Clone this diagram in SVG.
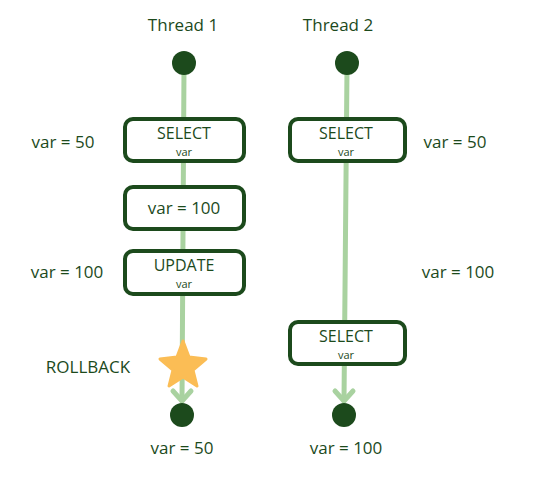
<svg xmlns="http://www.w3.org/2000/svg" width="554" height="484" viewBox="0 0 554 484">
<style>
.t{font-family:"Open Sans","DejaVu Sans",sans-serif;fill:#1c4a1c;text-anchor:middle}
.lbl{font-size:17px}
.big{font-size:17px}
.head{font-size:16px}
.small{font-size:11px}
.box{fill:#fff;stroke:#1c4a1c;stroke-width:4}
.line{stroke:#a9d2a0;stroke-width:5;fill:none;stroke-linecap:round;stroke-linejoin:round}
.dot{fill:#1c4a1c}
</style>
<rect width="554" height="484" fill="#fff"/>
<g id="connectors">
<path class="line" d="M184 68 L182 401"/>
<path class="line" d="M173 391 L182 401 L191 391"/>
<path class="line" d="M347 68 L344 401"/>
<path class="line" d="M335 391 L344 401 L353 391"/>
</g>
<g id="title1"><text class="t big" x="183" y="31">Thread 1</text></g>
<g id="title2"><text class="t big" x="338" y="31">Thread 2</text></g>
<g id="start1"><circle class="dot" cx="184" cy="63" r="12"/></g>
<g id="start2"><circle class="dot" cx="347" cy="63" r="12"/></g>
<g id="t1select">
<rect class="box" x="125" y="119" width="119" height="42" rx="8"/>
<text class="t head" x="184" y="139">SELECT</text>
<text class="t small" x="184" y="156">var</text>
</g>
<g id="t1assign">
<rect class="box" x="125" y="187" width="119" height="42" rx="8"/>
<text class="t lbl" x="184" y="214">var = 100</text>
</g>
<g id="t1update">
<rect class="box" x="125" y="251" width="119" height="43" rx="8"/>
<text class="t head" x="184" y="271">UPDATE</text>
<text class="t small" x="184" y="288">var</text>
</g>
<g id="t2select1">
<rect class="box" x="290" y="119" width="115" height="42" rx="8"/>
<text class="t head" x="346" y="139">SELECT</text>
<text class="t small" x="346" y="156">var</text>
</g>
<g id="t2select2">
<rect class="box" x="290" y="322" width="115" height="42" rx="8"/>
<text class="t head" x="346" y="342">SELECT</text>
<text class="t small" x="346" y="359">var</text>
</g>
<g id="star">
<path d="M183 341 L189 357 L206 359 L193 370 L197 386 L183 377 L169 386 L173 370 L160 359 L177 357 Z" fill="#fbbd55" stroke="#fbbd55" stroke-width="3" stroke-linejoin="round"/>
</g>
<g id="end1"><circle class="dot" cx="182" cy="415" r="12"/></g>
<g id="end2"><circle class="dot" cx="344" cy="415" r="12"/></g>
<g id="labels">
<text class="t lbl" x="63" y="148">var = 50</text>
<text class="t lbl" x="67" y="278">var = 100</text>
<text class="t lbl" x="455" y="148">var = 50</text>
<text class="t lbl" x="458" y="278">var = 100</text>
<text class="t lbl" x="88" y="373">ROLLBACK</text>
<text class="t lbl" x="182" y="454">var = 50</text>
<text class="t lbl" x="346" y="454">var = 100</text>
</g>
</svg>
